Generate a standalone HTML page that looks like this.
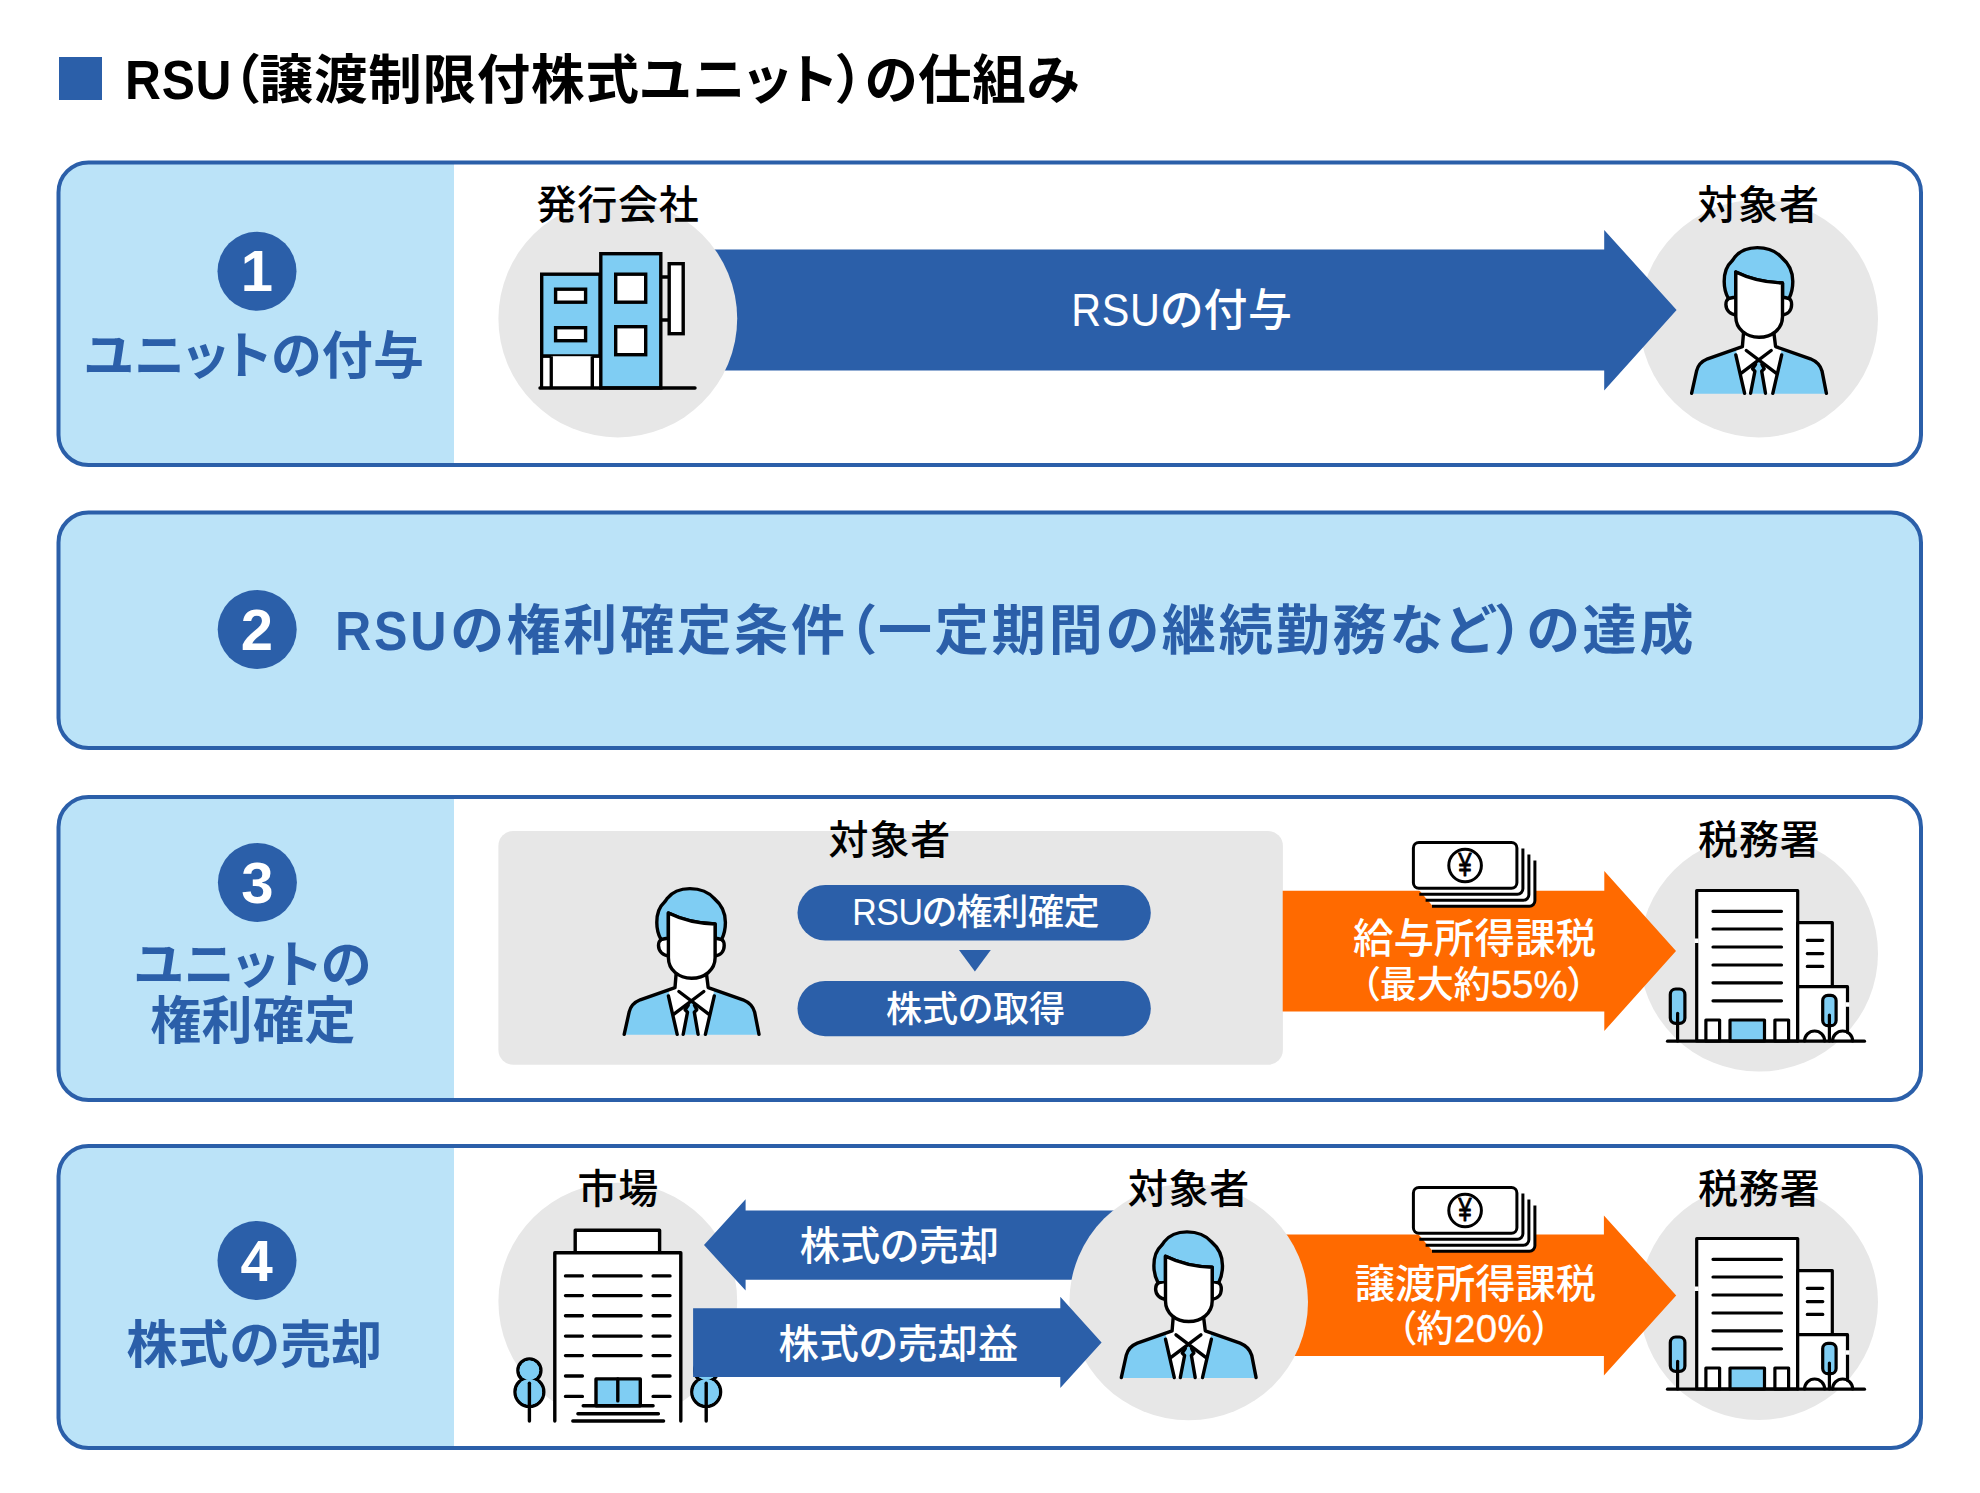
<!DOCTYPE html>
<html lang="ja">
<head>
<meta charset="utf-8">
<title>RSU（譲渡制限付株式ユニット）の仕組み</title>
<style>
html,body{margin:0;padding:0;background:#fff}
body{width:1980px;height:1493px;position:relative;overflow:hidden;font-family:"Liberation Sans","Noto Sans CJK JP",sans-serif;color:#000}
svg.bg{position:absolute;left:0;top:0;display:block}
.t{position:absolute;white-space:nowrap;line-height:1;margin:0;padding:0}
.c{transform:translateX(-50%);text-align:center}
.b{font-weight:700}
.m{font-weight:500}
.blue{color:#2b5fa9}
.w{color:#fff}
.t{font-feature-settings:"palt"}
.n{font-size:58px}
.h{font-size:51px;letter-spacing:.4px}
.k{font-size:40px;letter-spacing:.8px}
.l{display:inline-block;transform:scale(.93,1.045);transform-origin:0 84.6%;margin-right:-.148em}
.m .l{transform:scale(.94,1.045);margin-right:-.127em}
.d{font-size:1.04em;-webkit-text-stroke:.4px currentColor}
</style>
</head>
<body>
<svg class="bg" width="1980" height="1493" viewBox="0 0 1980 1493">
<defs>

<g id="person" stroke="#000" stroke-width="3.4" stroke-linejoin="round" stroke-linecap="round">
<!-- jacket -->
<path d="M62.4,111.6L27.6,123.8C21,126.5 17.8,131 16.6,135.9L11.6,158.8H146.4L142,135.9C140.5,131 137,126.5 130.4,123.8L95.6,111.6Z" fill="#7fcdf3" stroke="none"/>
<!-- shirt -->
<path d="M55.8,114L64.6,158.8H92.8L101.7,114L95.6,111.6H62.4Z" fill="#fff" stroke="none"/>
<!-- tie -->
<path d="M78.7,126L72.5,133.8L74.9,136.2L70.6,158.8H85.5L81.7,136.2L84.2,133.8Z" fill="#7fcdf3" stroke="none"/>
<!-- neck -->
<path d="M63.5,96L62.4,111.6L79,127L95.6,111.6L93.9,96Z" fill="#fff" stroke="none"/>
<path d="M63.5,98L62.4,111.6L27.6,123.8C21,126.5 17.8,131 16.6,135.9L11.6,158.3" fill="none"/>
<path d="M93.9,98L95.6,111.6L130.4,123.8C137,126.5 140.5,131 142,135.9L146.4,158.3" fill="none"/>
<path d="M55.8,119.9L64.6,158.3M101.7,119.9L92.8,158.3" fill="none"/>
<path d="M66.3,115.5L96.1,138.1M91.2,115.5L61.3,138.1" fill="none"/>
<path d="M75.6,129.2L72.5,133.8L74.9,136.2L70.6,158.3M81.9,129.2L84.2,133.8L81.7,136.2L85.5,158.3" fill="none"/>
<!-- ears -->
<path d="M56.5,62.5C50.5,60.5 45.9,64 45.9,69.6C45.9,75.5 50.5,79.6 56.5,80Z" fill="#fff"/>
<path d="M101.8,62.5C107.8,60.5 111.6,64 111.6,69.6C111.6,75.5 107.8,79.6 101.8,80Z" fill="#fff"/>
<!-- hair -->
<path d="M48.4,63.5C45.3,58 44.2,52.5 44.2,46.4C44.2,38 46.5,31 51.5,26.5C53,25 53.5,24 54.5,22.5C59.5,16 67.5,12.6 77.3,12.6C87.5,12.6 96,16 101.8,22.6C108.8,28.5 112.8,37 112.8,46.4C112.8,52.5 111.5,58.5 109,63.5L102.5,62V48C85,47.5 68,43 55.8,37V62Z" fill="#7fcdf3"/>
<!-- face -->
<path d="M55.8,37V81.8C55.8,94 66,102.2 79,102.2C92,102.2 102.5,94 102.5,81.8V48C85,47.5 68,43 55.8,37Z" fill="#fff"/>
</g>

<g id="money" stroke="#000" stroke-width="3" stroke-linejoin="round" stroke-linecap="butt">
<path d="M1417.5,888.2L1433,906.4H1529.5a5.5,5.5 0 0 0 5.5,-5.5V860.4L1516.9,848Z" fill="#fff" stroke="none"/>
<path d="M1534.9,860.4V900.7a5.5,5.5 0 0 1 -5.5,5.5H1432" fill="none"/>
<path d="M1528.9,854.4V894.7a5.5,5.5 0 0 1 -5.5,5.5H1425.6" fill="none"/>
<path d="M1522.9,848.4V888.7a5.5,5.5 0 0 1 -5.5,5.5H1419.3" fill="none"/>
<rect x="1413.4" y="842.4" width="103.5" height="45.8" rx="5.5" fill="#fff"/>
<circle cx="1465.1" cy="865.5" r="16.3" fill="#fff"/>
<text transform="translate(1465,876.2) scale(.72,1)" text-anchor="middle" font-family="'Liberation Sans','Noto Sans CJK JP',sans-serif" font-weight="400" font-size="33.5" fill="#000" stroke="#000" stroke-width=".9" stroke-linejoin="round">¥</text>
</g>

<g id="tax" stroke="#000" stroke-width="3.2" stroke-linejoin="round" stroke-linecap="round">
<rect x="1696.7" y="890.5" width="101" height="150.5" fill="#fff"/>
<rect x="1797.7" y="922.6" width="34.6" height="64.1" fill="#fff"/>
<rect x="1797.7" y="986.7" width="49.8" height="54.3" fill="#fff" stroke="none"/>
<path d="M1797.7,1041V986.7H1847.5V1032.3" fill="none"/>
<path d="M1696.7,938.6V943M1847.5,1002.3V1006.8" fill="none" stroke="#fff" stroke-width="4" stroke-linecap="butt"/>
<path d="M1713,911.3H1781.5M1713,929H1781.5M1713,947H1781.5M1713,965H1781.5M1713,982.8H1781.5M1713,1000.8H1781.5" fill="none"/>
<path d="M1807.3,940.3H1822.8M1807.3,953.6H1822.8M1807.3,966.4H1822.8" fill="none"/>
<rect x="1705.9" y="1020" width="13.7" height="21" fill="#fff"/>
<rect x="1774.9" y="1020" width="13.7" height="21" fill="#fff"/>
<rect x="1730" y="1020" width="34.5" height="21" fill="#7fcdf3"/>
<path d="M1804.6,1041a10,10 0 0 1 20,0M1832.6,1041a10,10 0 0 1 20,0" fill="none"/>
<rect x="1670.3" y="989" width="14.6" height="34.4" rx="5.4" fill="#7fcdf3"/>
<path d="M1677.6,1013.3V1041" fill="none"/>
<rect x="1822.7" y="995.3" width="13.4" height="30.4" rx="5.2" fill="#7fcdf3"/>
<path d="M1829.4,1015V1041" fill="none"/>
<path d="M1667.5,1041.2H1864.5" fill="none"/>
</g>

</defs>
<!-- title marker -->
<rect x="59" y="57" width="43" height="43" fill="#2b5fa9"/>

<!-- ROW 1 -->
<g id="row1">
<path d="M454,162.4H88.5a30,30 0 0 0 -30,30V435a30,30 0 0 0 30,30H454Z" fill="#bbe3f8"/>
<rect x="58.5" y="162.4" width="1862.5" height="302.6" rx="30" fill="none" stroke="#2b5fa9" stroke-width="4"/>
<circle cx="257" cy="271.3" r="39.5" fill="#2b5fa9"/>
<ellipse cx="1758.7" cy="318.6" rx="119.3" ry="118.8" fill="#e7e7e7"/>
<polygon points="600,249.5 1604.2,249.5 1604.2,230 1676.6,310 1604.2,390.5 1604.2,370.5 600,370.5" fill="#2b5fa9"/>
<ellipse cx="617.8" cy="318.6" rx="119.4" ry="118.8" fill="#e7e7e7"/>

<g stroke="#000" stroke-width="3.4" stroke-linejoin="miter">
<rect x="541.7" y="274.2" width="58.3" height="82" fill="#7fcdf3"/>
<path d="M541.7,356.200V388M551.200,356.200V388M592.300,356.200V388M541.700,356.200H600" fill="none"/>
<rect x="551.200" y="356.200" width="41" height="31.800" fill="#fff" stroke="none"/>
<path d="M551.200,356.200V388M592.300,356.200V388" fill="none"/>
<rect x="543.4" y="357.9" width="6.100" height="29" fill="#fff" stroke="none"/>
<rect x="594" y="357.900" width="5" height="29" fill="#fff" stroke="none"/>
<rect x="600.800" y="253.700" width="60" height="134.300" fill="#7fcdf3"/>
<rect x="555.600" y="289.200" width="30" height="13" fill="#fff"/>
<rect x="555.600" y="327.700" width="30" height="13" fill="#fff"/>
<rect x="615.700" y="274.200" width="30" height="28" fill="#fff"/>
<rect x="615.700" y="326.700" width="30" height="28" fill="#fff"/>
<rect x="669.200" y="263.700" width="14" height="70" fill="#fff"/>
<path d="M660.800,277H669.200M660.800,320H669.200" fill="none"/>
<path d="M540,388H695" fill="none" stroke-linecap="round"/>
</g>

<use href="#person" x="1680" y="235"/>
</g>

<!-- ROW 2 -->
<g id="row2">
<rect x="58.5" y="512.5" width="1862.5" height="235.5" rx="30" fill="#bbe3f8" stroke="#2b5fa9" stroke-width="4"/>
<circle cx="257.2" cy="629.5" r="39.5" fill="#2b5fa9"/>
</g>

<!-- ROW 3 -->
<g id="row3">
<path d="M454,797H88.5a30,30 0 0 0 -30,30V1070a30,30 0 0 0 30,30H454Z" fill="#bbe3f8"/>
<rect x="58.5" y="797" width="1862.5" height="303" rx="30" fill="none" stroke="#2b5fa9" stroke-width="4"/>
<circle cx="257.4" cy="882.5" r="39.5" fill="#2b5fa9"/>
<rect x="498.4" y="830.9" width="784.5" height="233.9" rx="15" fill="#e7e7e7"/>
<rect x="797.5" y="885" width="353.3" height="55.5" rx="27.75" fill="#2b5fa9"/>
<rect x="797.5" y="981" width="353.3" height="55.2" rx="27.6" fill="#2b5fa9"/>
<polygon points="959,950 990.8,950 974.9,971.6" fill="#2b5fa9"/>
<ellipse cx="1758.7" cy="953.4" rx="119.3" ry="118.2" fill="#e7e7e7"/>
<polygon points="1282.7,890.7 1604.3,890.7 1604.3,871 1676,951 1604.3,1031 1604.3,1011.5 1282.7,1011.5" fill="#ff6a00"/>
<use href="#person" x="612.6" y="876"/>
<use href="#money"/>
<use href="#tax"/>
</g>

<!-- ROW 4 -->
<g id="row4">
<path d="M454,1146H88.5a30,30 0 0 0 -30,30V1418a30,30 0 0 0 30,30H454Z" fill="#bbe3f8"/>
<rect x="58.5" y="1146" width="1862.5" height="302" rx="30" fill="none" stroke="#2b5fa9" stroke-width="4"/>
<circle cx="257" cy="1260.5" r="39.5" fill="#2b5fa9"/>
<ellipse cx="1758.7" cy="1301.8" rx="119.3" ry="118.2" fill="#e7e7e7"/>
<ellipse cx="617.8" cy="1301.5" rx="119.4" ry="118.7" fill="#e7e7e7"/>

<g stroke="#000" stroke-width="3.4" stroke-linejoin="round" stroke-linecap="round">
<circle cx="529.4" cy="1370.4" r="11.5" fill="#7fcdf3"/>
<circle cx="529.4" cy="1392" r="14.4" fill="#7fcdf3"/>
<circle cx="529.4" cy="1370.4" r="9.8" fill="#7fcdf3" stroke="none"/>
<circle cx="529.4" cy="1392" r="12.7" fill="#7fcdf3" stroke="none"/>
<path d="M529.400,1383.200V1421" fill="none"/>
<circle cx="706.2" cy="1370.4" r="11.5" fill="#7fcdf3"/>
<circle cx="706.2" cy="1392" r="14.4" fill="#7fcdf3"/>
<circle cx="706.2" cy="1370.4" r="9.8" fill="#7fcdf3" stroke="none"/>
<circle cx="706.2" cy="1392" r="12.7" fill="#7fcdf3" stroke="none"/>
<path d="M706.200,1383.200V1421" fill="none"/>
<rect x="575.200" y="1230.200" width="84.400" height="22.500" fill="#fff"/>
<path d="M554.800,1421V1252.700H680.800V1421Z" fill="#fff" stroke="none"/>
<path d="M554.800,1421V1252.700H680.800V1421" fill="none"/>
<path d="M565.500,1275.900H582.400M565.500,1295.600H582.400M565.500,1315.700H582.400M565.500,1336.100H582.400M565.500,1355.600H582.400M565.500,1376H582.400M565.500,1396.400H582.400" fill="none"/>
<path d="M653.100,1275.900H670M653.100,1295.600H670M653.100,1315.700H670M653.100,1336.100H670M653.100,1355.600H670M653.100,1376H670M653.100,1396.400H670" fill="none"/>
<path d="M593.700,1275.900H641.100M593.700,1295.600H641.100M593.700,1315.700H641.100M593.700,1336.100H641.100M593.700,1355.600H641.100" fill="none"/>
<rect x="596" y="1378.900" width="44.300" height="26.800" fill="#7fcdf3"/>
<path d="M617.800,1378.900V1400.900" fill="none"/>
<path d="M583.200,1405.700H653.100M577.900,1413.800H658.400M572.800,1421H663.600" fill="none"/>
</g>

<polygon points="1180,1210.4 745.6,1210.4 745.6,1199.2 704,1244.9 745.6,1290.6 745.6,1279.8 1180,1279.8" fill="#2b5fa9"/>
<polygon points="1180,1234.6 1603.9,1234.6 1603.9,1215.4 1676.2,1295.4 1603.9,1375.6 1603.9,1356 1180,1356" fill="#ff6a00"/>
<ellipse cx="1188.7" cy="1302" rx="119.3" ry="118.3" fill="#e7e7e7"/>
<polygon points="693.1,1308.2 1060.3,1308.2 1060.3,1296.7 1101.6,1342.4 1060.3,1388 1060.3,1376.9 693.1,1376.9" fill="#2b5fa9"/>
<use href="#person" x="1109.7" y="1219.3"/>
<use href="#money" y="345"/>
<use href="#tax" y="348"/>
</g>
</svg>

<!-- TEXT -->
<div class="t b" style="left:124.6px;top:54.1px;font-size:53.5px;letter-spacing:.8px"><span class="l">RSU</span>（譲渡制限付株式ユニット）の仕組み</div>

<div class="t b w c n" style="left:257px;top:241.7px">1</div>
<div class="t b blue c h" style="left:254.5px;top:331.3px">ユニットの付与</div>
<div class="t m c k" style="left:618px;top:184.5px">発行会社</div>
<div class="t m c k" style="left:1758.5px;top:184.5px">対象者</div>
<div class="t m w c" style="left:1182px;top:289.2px;font-size:44px;letter-spacing:.6px"><span class="l">RSU</span>の付与</div>

<div class="t b w c n" style="left:257px;top:600.5px">2</div>
<div class="t b blue" style="left:335.4px;top:604.3px;font-size:54px;letter-spacing:2.93px"><span class="l">RSU</span>の権利確定条件（一定期間の継続勤務など）の達成</div>

<div class="t b w c n" style="left:257.5px;top:853.9px">3</div>
<div class="t b blue c h" style="left:253px;top:937.9px;line-height:56.6px">ユニットの<br>権利確定</div>
<div class="t m c k" style="left:889.8px;top:819.6px">対象者</div>
<div class="t m w c" style="left:975.5px;top:895.2px;font-size:36.1px;letter-spacing:-.4px"><span class="l">RSU</span>の権利確定</div>
<div class="t m w c" style="left:975.5px;top:991.6px;font-size:36.1px">株式の取得</div>
<div class="t m w c" style="left:1474.6px;top:919.2px;font-size:40.5px">給与所得課税</div>
<div class="t m w c" style="left:1473.7px;top:965.6px;font-size:37px">（最大約<span class="d">55%</span>）</div>
<div class="t m c k" style="left:1759.3px;top:819.6px">税務署</div>

<div class="t b w c n" style="left:256.7px;top:1232.4px">4</div>
<div class="t b blue c h" style="left:254.6px;top:1320.1px">株式の売却</div>
<div class="t m c k" style="left:618.2px;top:1168.5px">市場</div>
<div class="t m c k" style="left:1188.9px;top:1168.5px">対象者</div>
<div class="t m w c" style="left:899.5px;top:1226.7px;font-size:40.2px">株式の売却</div>
<div class="t m w c" style="left:898.3px;top:1324.8px;font-size:40.2px">株式の売却益</div>
<div class="t m w c" style="left:1475.3px;top:1264.6px;font-size:40.2px">譲渡所得課税</div>
<div class="t m w c" style="left:1474.3px;top:1310px;font-size:37px;letter-spacing:.4px">（約<span class="d">20%</span>）</div>
<div class="t m c k" style="left:1759.3px;top:1168.5px">税務署</div>
</body>
</html>
